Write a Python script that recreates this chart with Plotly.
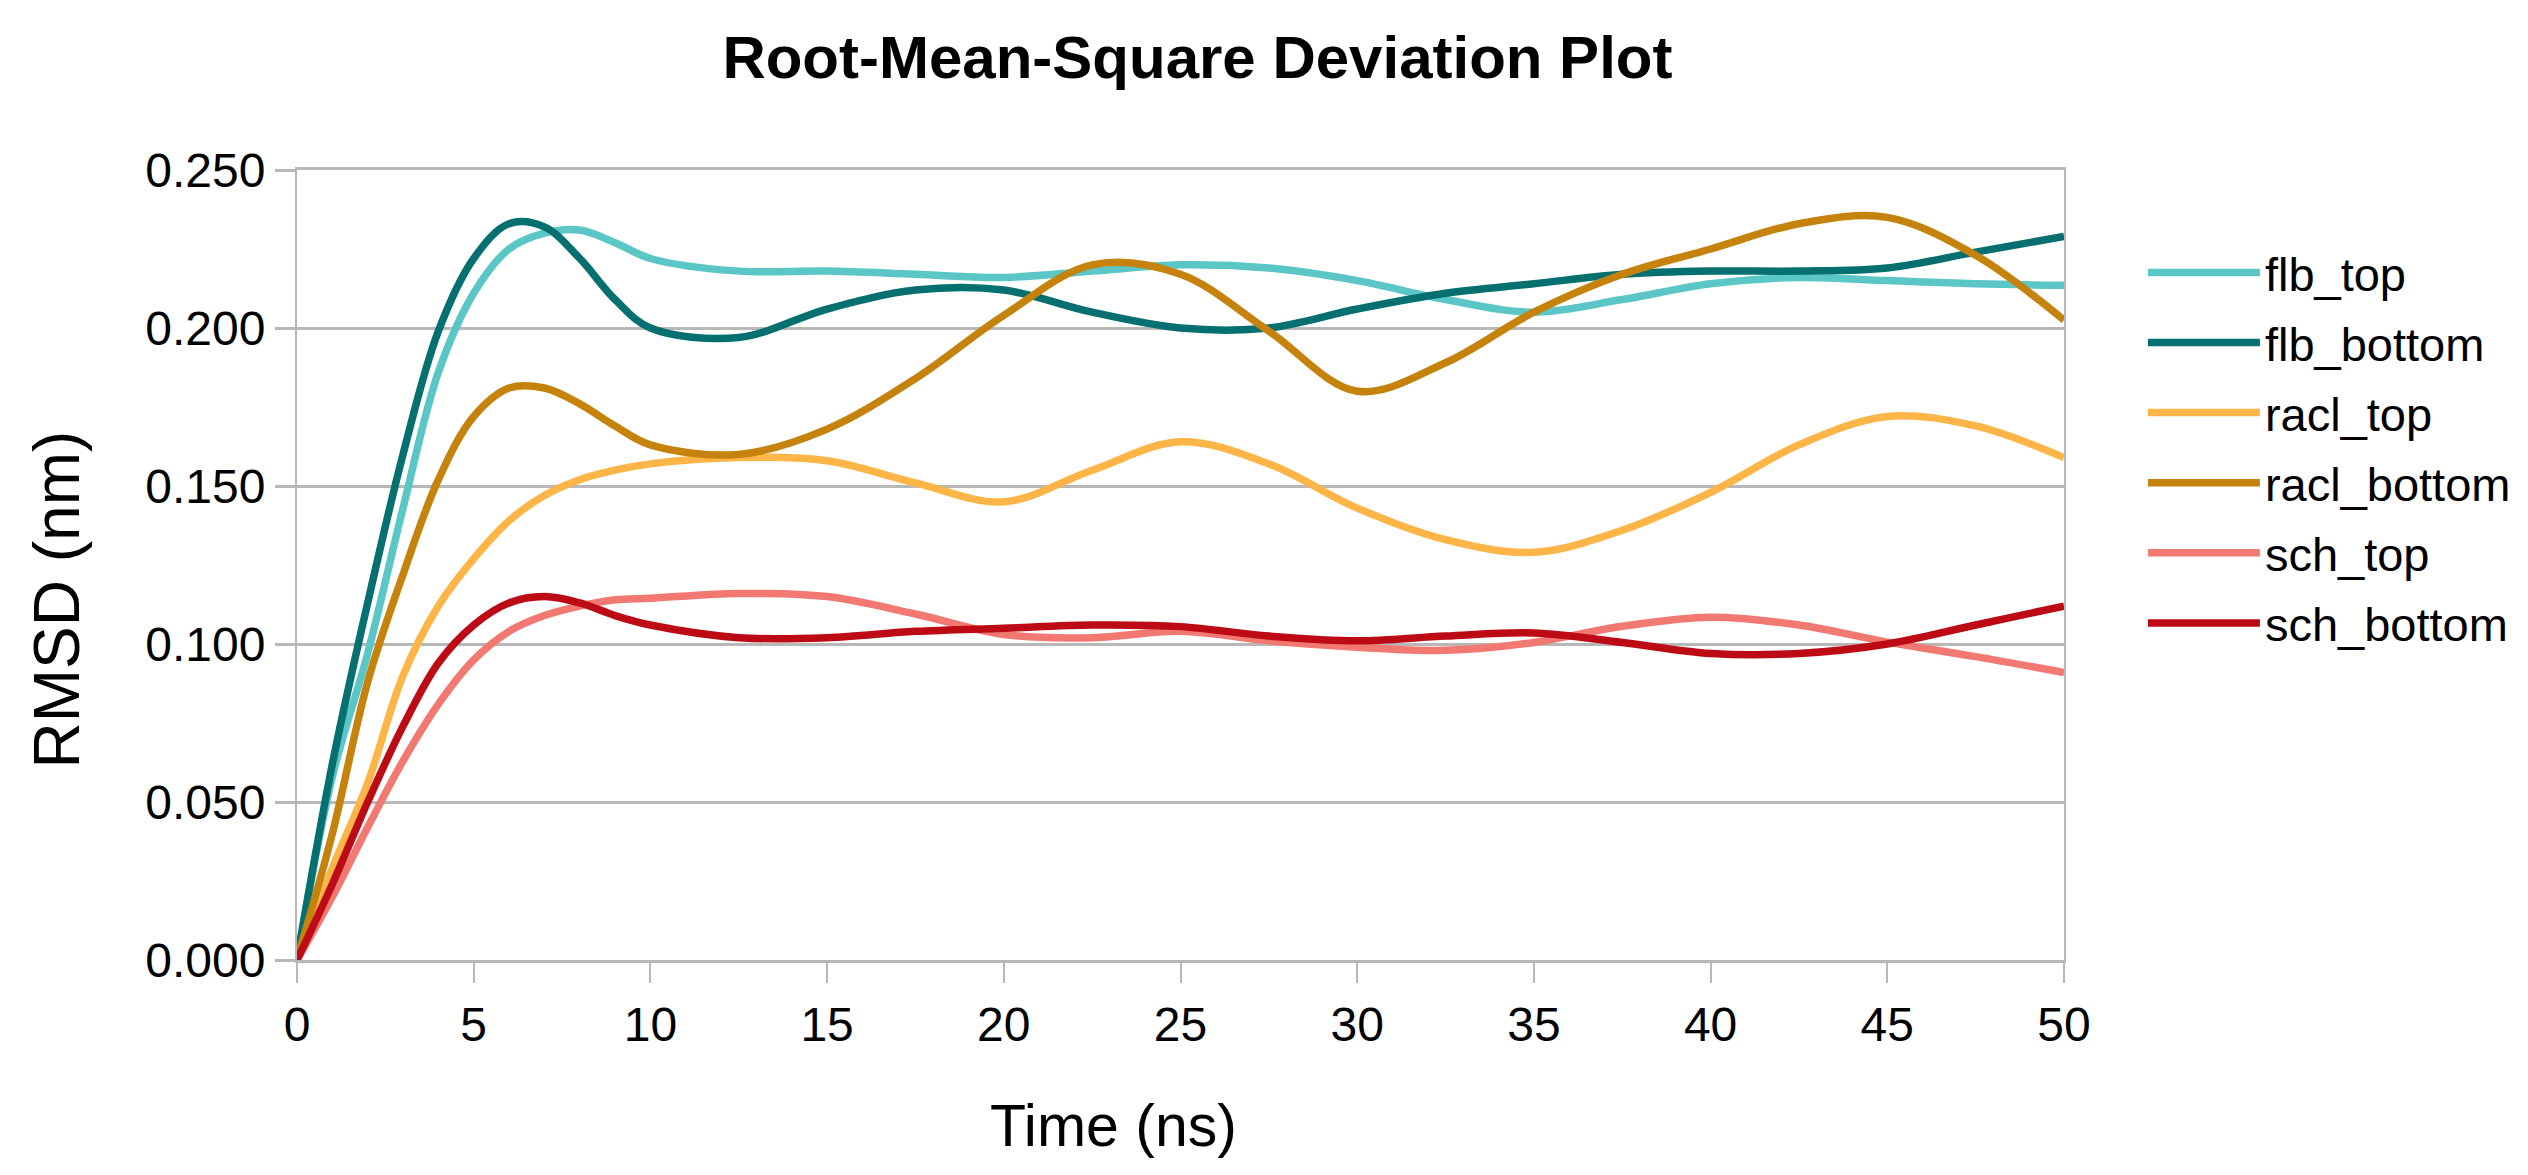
import plotly.graph_objects as go

time_ns = [0, 1, 2, 3, 4, 5, 6, 7, 8, 9, 10, 12.5, 15, 17.5, 20, 22.5, 25, 27.5,
           30, 32.5, 35, 37.5, 40, 42.5, 45, 47.5, 50]

flb_top = [0, 0.058, 0.097, 0.143, 0.186, 0.211, 0.225, 0.230, 0.231, 0.227, 0.222,
           0.218, 0.218, 0.217, 0.216, 0.218, 0.220, 0.219, 0.215, 0.209, 0.205,
           0.209, 0.214, 0.216, 0.215, 0.214, 0.2135]
flb_bottom = [0, 0.062, 0.113, 0.160, 0.199, 0.222, 0.233, 0.232, 0.222, 0.209, 0.200,
              0.197, 0.206, 0.212, 0.212, 0.205, 0.200, 0.200, 0.206, 0.211, 0.214,
              0.217, 0.218, 0.218, 0.219, 0.224, 0.229]
racl_top = [0, 0.029, 0.056, 0.090, 0.112, 0.127, 0.139, 0.147, 0.152, 0.155, 0.157,
            0.159, 0.158, 0.151, 0.145, 0.155, 0.164, 0.157, 0.143, 0.133, 0.129,
            0.136, 0.148, 0.163, 0.172, 0.169, 0.159]
racl_bottom = [0, 0.040, 0.088, 0.122, 0.152, 0.172, 0.181, 0.181, 0.176, 0.169, 0.163,
               0.160, 0.168, 0.184, 0.204, 0.220, 0.217, 0.199, 0.180, 0.189, 0.205,
               0.217, 0.225, 0.233, 0.235, 0.223, 0.2025]
sch_top = [0, 0.020, 0.042, 0.063, 0.081, 0.095, 0.104, 0.109, 0.112, 0.114, 0.1145,
           0.116, 0.115, 0.1095, 0.103, 0.102, 0.104, 0.101, 0.099, 0.098, 0.1005,
           0.1056, 0.1085, 0.106, 0.1006, 0.096, 0.091]
sch_bottom = [0, 0.024, 0.050, 0.074, 0.094, 0.106, 0.113, 0.115, 0.113, 0.109, 0.106,
              0.102, 0.102, 0.104, 0.105, 0.106, 0.1055, 0.1025, 0.101, 0.1025, 0.1035,
              0.1005, 0.097, 0.097, 0.100, 0.106, 0.112]

series_names = ["flb_top", "flb_bottom", "racl_top", "racl_bottom", "sch_top", "sch_bottom"]
series_values = [flb_top, flb_bottom, racl_top, racl_bottom, sch_top, sch_bottom]
series_colors = ["#5bc6c6", "#05706f", "#feb548", "#c5830d", "#f27971", "#bc0b15"]

x_ticks = list(range(0, 51, 5))
y_ticks = [0.0, 0.05, 0.10, 0.15, 0.20, 0.25]

FONT = "Liberation Sans, Arial, sans-serif"
GRID = "#b8b8b8"

fig = go.Figure()
for i, (name, vals, col) in enumerate(zip(series_names, series_values, series_colors)):
    fig.add_trace(go.Scatter(
        x=time_ns, y=vals, name=name, mode="lines",
        line=dict(color=col, width=7.5, shape="spline", smoothing=1.0),
        legendgroup=name,
    ))

fig.update_layout(
    width=2528, height=1175,
    margin=dict(l=289, r=472, t=162, b=223, autoexpand=False),
    paper_bgcolor="white", plot_bgcolor="white",
    font=dict(family=FONT, color="#000000", size=46),
    title=dict(text="<b>Root-Mean-Square Deviation Plot</b>",
               font=dict(family=FONT, size=60, color="#000000"),
               x=0.4705, xanchor="center", y=0.958, yanchor="middle"),
    showlegend=True,
    legend=dict(xref="container", x=0.8445, xanchor="left",
                yref="container", y=0.8065, yanchor="top",
                font=dict(family=FONT, size=47, color="#000000"),
                itemwidth=112, tracegroupgap=6, bgcolor="rgba(0,0,0,0)"),
    annotations=[
        dict(text="Time (ns)", xref="paper", yref="paper",
             x=0.462, y=-0.21, xanchor="center", yanchor="middle",
             showarrow=False, font=dict(family=FONT, size=59, color="#000000")),
        dict(text="RMSD (nm)", xref="paper", yref="paper", textangle=-90,
             x=-0.136, y=0.456, xanchor="center", yanchor="middle",
             showarrow=False, font=dict(family=FONT, size=64, color="#000000")),
    ],
)

fig.update_xaxes(
    range=[0, 50], tickvals=x_ticks, ticktext=[str(v) for v in x_ticks],
    showgrid=False, zeroline=False,
    showline=True, linecolor=GRID, linewidth=3, mirror=True,
    ticks="outside", ticklen=20, tickwidth=2, tickcolor=GRID,
    tickfont=dict(family=FONT, size=48, color="#000000"),
)
fig.update_yaxes(
    range=[0, 0.25], tickvals=y_ticks, tickformat=".3f",
    showgrid=True, gridcolor=GRID, gridwidth=3, zeroline=False,
    showline=True, linecolor=GRID, linewidth=2, mirror=True,
    ticks="outside", ticklen=20, tickwidth=3, tickcolor=GRID,
    tickfont=dict(family=FONT, size=48, color="#000000"),
)

fig.write_html("out.html")
